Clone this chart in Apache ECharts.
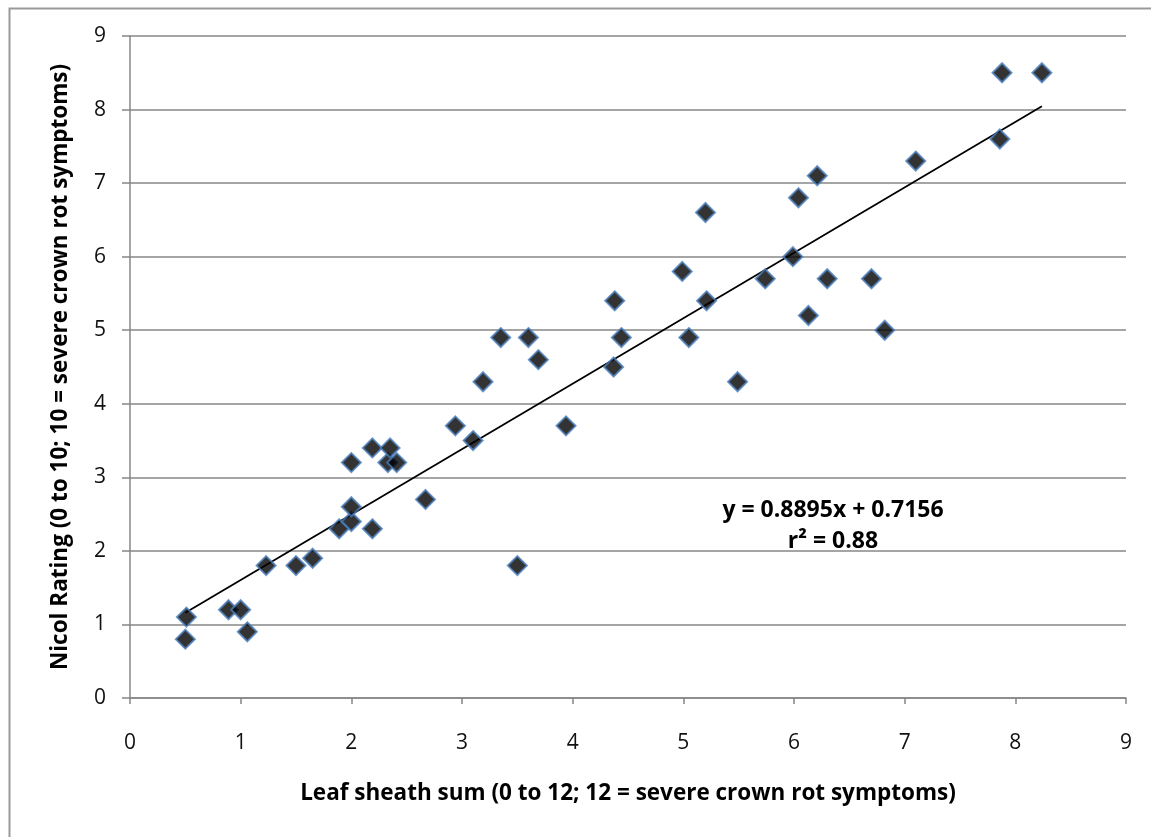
<!DOCTYPE html>
<html>
<head>
<meta charset="utf-8">
<script src="https://cdn.jsdelivr.net/npm/echarts@6/dist/echarts.min.js"></script>
<style>
  html, body { margin: 0; padding: 0; background: #ffffff; }
  #chart { width: 1151px; height: 837px; }
</style>
</head>
<body>
<div id="chart"></div>
<script>
// Leaf sheath sum (x) vs. Nicol rating (y) for each plot
const leafSheathSum = [
  0.50, 0.51, 0.89, 1.00, 1.06, 1.23, 1.50, 1.65, 1.89, 2.00,
  2.00, 2.00, 2.19, 2.19, 2.33, 2.35, 2.41, 2.67, 2.94, 3.10,
  3.19, 3.35, 3.50, 3.60, 3.69, 3.94, 4.37, 4.38, 4.44, 4.99,
  5.05, 5.20, 5.21, 5.49, 5.74, 5.99, 6.04, 6.13, 6.21, 6.30,
  6.70, 6.82, 7.10, 7.86, 7.88, 8.24
];
const nicolRating = [
  0.80, 1.10, 1.20, 1.20, 0.90, 1.80, 1.80, 1.90, 2.30, 2.40,
  2.60, 3.20, 2.30, 3.40, 3.20, 3.40, 3.20, 2.70, 3.70, 3.50,
  4.30, 4.90, 1.80, 4.90, 4.60, 3.70, 4.50, 5.40, 4.90, 5.80,
  4.90, 6.60, 5.40, 4.30, 5.70, 6.00, 6.80, 5.20, 7.10, 5.70,
  5.70, 5.00, 7.30, 7.60, 8.50, 8.50
];

// Linear fit reported for the data
const fitSlope = 0.8895;
const fitIntercept = 0.7156;
const fitR2 = '0.88';

const xTicks = [0, 1, 2, 3, 4, 5, 6, 7, 8, 9];
const yTicks = [0, 1, 2, 3, 4, 5, 6, 7, 8, 9];

const points = leafSheathSum.map((x, i) => [x, nicolRating[i]]);
const xMin = Math.min(...leafSheathSum);
const xMax = Math.max(...leafSheathSum);
const fitLine = [
  [xMin, fitSlope * xMin + fitIntercept],
  [xMax, fitSlope * xMax + fitIntercept]
];

const FONT = '"Open Sans", Lato, sans-serif';
const GRAY = '#878787';

const chart = echarts.init(document.getElementById('chart'), null, { renderer: 'canvas' });

chart.setOption({
  animation: false,
  backgroundColor: '#ffffff',
  grid: { left: 130, right: 25, top: 36, bottom: 139, containLabel: false },
  xAxis: {
    type: 'value',
    min: xTicks[0],
    max: xTicks[xTicks.length - 1],
    interval: 1,
    name: 'Leaf sheath sum (0 to 12; 12 = severe crown rot symptoms)',
    nameLocation: 'middle',
    nameGap: 84,
    nameTextStyle: { fontFamily: FONT, fontWeight: 'bold', fontSize: 22.5, color: '#000' },
    axisLine: { show: true, lineStyle: { color: GRAY, width: 1.5 } },
    axisTick: { show: true, inside: false, length: 6, lineStyle: { color: GRAY, width: 1.5 } },
    axisLabel: { margin: 35, fontFamily: FONT, fontSize: 21, color: '#111',
                 formatter: v => String(v) },
    splitLine: { show: false }
  },
  yAxis: {
    type: 'value',
    min: yTicks[0],
    max: yTicks[yTicks.length - 1],
    interval: 1,
    name: 'Nicol Rating (0 to 10; 10 = severe crown rot symptoms)',
    nameLocation: 'middle',
    nameGap: 58,
    nameRotate: 90,
    nameTextStyle: { fontFamily: FONT, fontWeight: 'bold', fontSize: 22.5, color: '#000' },
    axisLine: { show: true, lineStyle: { color: GRAY, width: 1.5 } },
    axisTick: { show: true, inside: false, length: 8, lineStyle: { color: GRAY, width: 1.5 } },
    axisLabel: { margin: 24, fontFamily: FONT, fontSize: 21, color: '#111',
                 formatter: v => String(v) },
    splitLine: { show: true, lineStyle: { color: GRAY, width: 1.5 } }
  },
  series: [
    {
      type: 'line',
      data: fitLine,
      showSymbol: false,
      symbol: 'none',
      lineStyle: { color: '#000', width: 1.8 },
      z: 3,
      silent: true
    },
    {
      type: 'scatter',
      data: points,
      symbol: 'diamond',
      symbolSize: 19,
      itemStyle: { color: '#000', borderColor: '#4a7ebb', borderWidth: 2 },
      z: 4
    }
  ],
  graphic: [
    {
      type: 'rect',
      left: 7, top: 6,
      shape: { width: 1160, height: 840 },
      style: { fill: 'none', stroke: '#999', lineWidth: 2 },
      silent: true
    },
    {
      type: 'text',
      x: 833, y: 510,
      style: {
        text: 'y = ' + fitSlope + 'x + ' + fitIntercept,
        fontFamily: FONT, fontWeight: 'bold', fontSize: 23, fill: '#000',
        align: 'center', verticalAlign: 'middle'
      },
      z: 10
    },
    {
      type: 'text',
      x: 833, y: 541,
      style: {
        text: 'r\u00b2 = ' + fitR2,
        fontFamily: FONT, fontWeight: 'bold', fontSize: 23, fill: '#000',
        align: 'center', verticalAlign: 'middle'
      },
      z: 10
    }
  ]
});
</script>
</body>
</html>
